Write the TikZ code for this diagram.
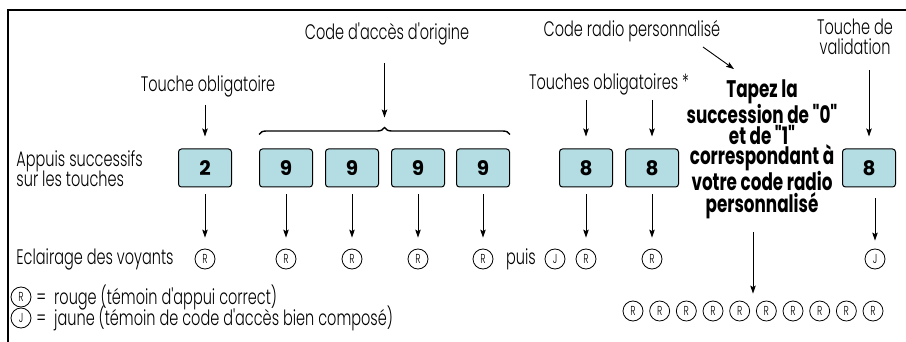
\documentclass[tikz,border=0pt]{standalone}
\usepackage{fontspec}
\setmainfont{Poppins}[UprightFont=* Light,BoldFont=* Bold,FakeStretch=0.69,Ligatures=TeXOff]
\newfontfamily\keyfont{Poppins}[UprightFont=* Bold]
\newfontfamily\tapfont{Poppins}[UprightFont=* Bold,FakeStretch=0.70]
\usetikzlibrary{arrows.meta,decorations.pathreplacing,calc}
\definecolor{keyblue}{HTML}{B3DDE3}
\tikzset{
  touche/.style={draw,line width=1pt,rounded corners=3pt,fill=keyblue,
    minimum width=53pt,minimum height=38pt,inner sep=0pt,
    font=\keyfont\fontsize{20}{20}\selectfont},
  voyant/.style={draw,circle,line width=0.8pt,minimum size=20pt,inner sep=0pt,
    font=\fontsize{13}{13}\selectfont},
  txt/.style={inner sep=0pt,font=\fontsize{21}{21}\selectfont}
}
\begin{document}
\begin{tikzpicture}[x=1pt,y=-1pt,line width=0.9pt,
    >={Stealth[length=8pt,width=5.5pt,inset=1.5pt]}]
    \useasboundingbox (0,0) rectangle (906,342);
    % cadre
    \draw[line width=1.3pt] (8,342) -- (8,10) -- (906,10);

    % textes a gauche
    \node[txt,anchor=base west] (appuis) at (16,167) {Appuis successifs};
    \node[txt,anchor=base west] (surles) at (16,187) {sur les touches};
    \node[txt,anchor=base west] (eclair) at (16,265) {Eclairage des voyants};

    % touche obligatoire
    \node[touche] (k2) at (205,168) {2};
    \node[voyant] (l2) at (205,259) {R};
    \node[txt,anchor=base] (oblig) at (208,92) {Touche obligatoire};
    \draw[->] (oblig.base -| k2) ++(0,13) -- ([yshift=12pt]k2.north);
    \draw[->] ([yshift=-7pt]k2.south) -- ([yshift=11pt]l2.north);

    % code d'acces d'origine
    \foreach \x/\n in {286/a,352/b,418/c,483/d}{
      \node[touche] (k9\n) at (\x,168) {9};
      \node[voyant] (l9\n) at (\x,259) {R};
      \draw[->] ([yshift=-7pt]k9\n.south) -- ([yshift=11pt]l9\n.north);
    }
    \coordinate (acc) at ($(k9a.north west)!0.5!(k9d.north east)$);
    \draw[decorate,decoration={brace,amplitude=7pt},line width=1.4pt]
      ([yshift=14pt]k9a.north west) -- ([yshift=14pt]k9d.north east);
    \node[txt,anchor=base] (orig) at (387,40) {Code d'accès d'origine};
    \draw[->] (orig.base -| acc) ++(0,23) -- ([yshift=31pt]acc);

    \node[txt,anchor=base] (puis) at (521,265) {puis};
    \node[voyant] (lpj) at (555,259) {J};

    % touches obligatoires
    \foreach \x/\n in {586/a,652/b}{
      \node[touche] (k8\n) at (\x,168) {8};
      \node[voyant] (l8\n) at (\x,259) {R};
      \draw[->] ([yshift=-7pt]k8\n.south) -- ([yshift=11pt]l8\n.north);
    }
    \node[txt,anchor=base] (obligs) at (609,90) {Touches obligatoires *};
    \draw[->] (obligs.base -| k8a) ++(0,10) -- ([yshift=12pt]k8a.north);
    \draw[->] (obligs.base -| k8b) ++(0,10) -- ([yshift=12pt]k8b.north);

    % code radio
    \node[inner sep=0pt,align=center,font=\tapfont\fontsize{24}{20.2}\selectfont]
      (tapez) at (762,149) {Tapez la\\succession de "0"\\et de "1"\\correspondant à\\votre code radio\\personnalisé};
    \node[txt,anchor=base] (radio) at (632,37) {Code radio personnalisé};
    \draw[->] ([xshift=71pt,yshift=-10pt]radio.base) -- ([xshift=-28pt,yshift=10pt]tapez.north);
    \foreach \i in {1,...,10}
      \node[voyant] (r\i) at ({633+(\i-1)*26.67},311) {R};
    \coordinate (rmid) at ($(r5.north)!0.5!(r6.north)$);
    \draw[->] (tapez.south -| rmid) ++(0,13) -- ([yshift=7pt]rmid);

    % touche de validation
    \node[touche] (kv) at (869,168) {8};
    \node[voyant] (lv) at (875,259) {J};
    \node[txt,anchor=base] (valid1) at (855,35) {Touche de};
    \node[txt,anchor=base] (valid2) at (855,55) {validation};
    \draw[->] (valid2.base -| kv) ++(0,15) -- ([yshift=12pt]kv.north);
    \draw[->] (kv.south -| lv) ++(0,11) -- ([yshift=8pt]lv.north);

    % legende
    \node[voyant] (legR) at (21,297) {R};
    \node[txt,anchor=base west] (legRt) at (36,304) {=\hspace{8pt}rouge (témoin d'appui correct)};
    \node[voyant] (legJ) at (21,318) {J};
    \node[txt,anchor=base west] (legJt) at (36,325) {=\hspace{8pt}jaune (témoin de code d'accès bien composé)};
\end{tikzpicture}
\end{document}
